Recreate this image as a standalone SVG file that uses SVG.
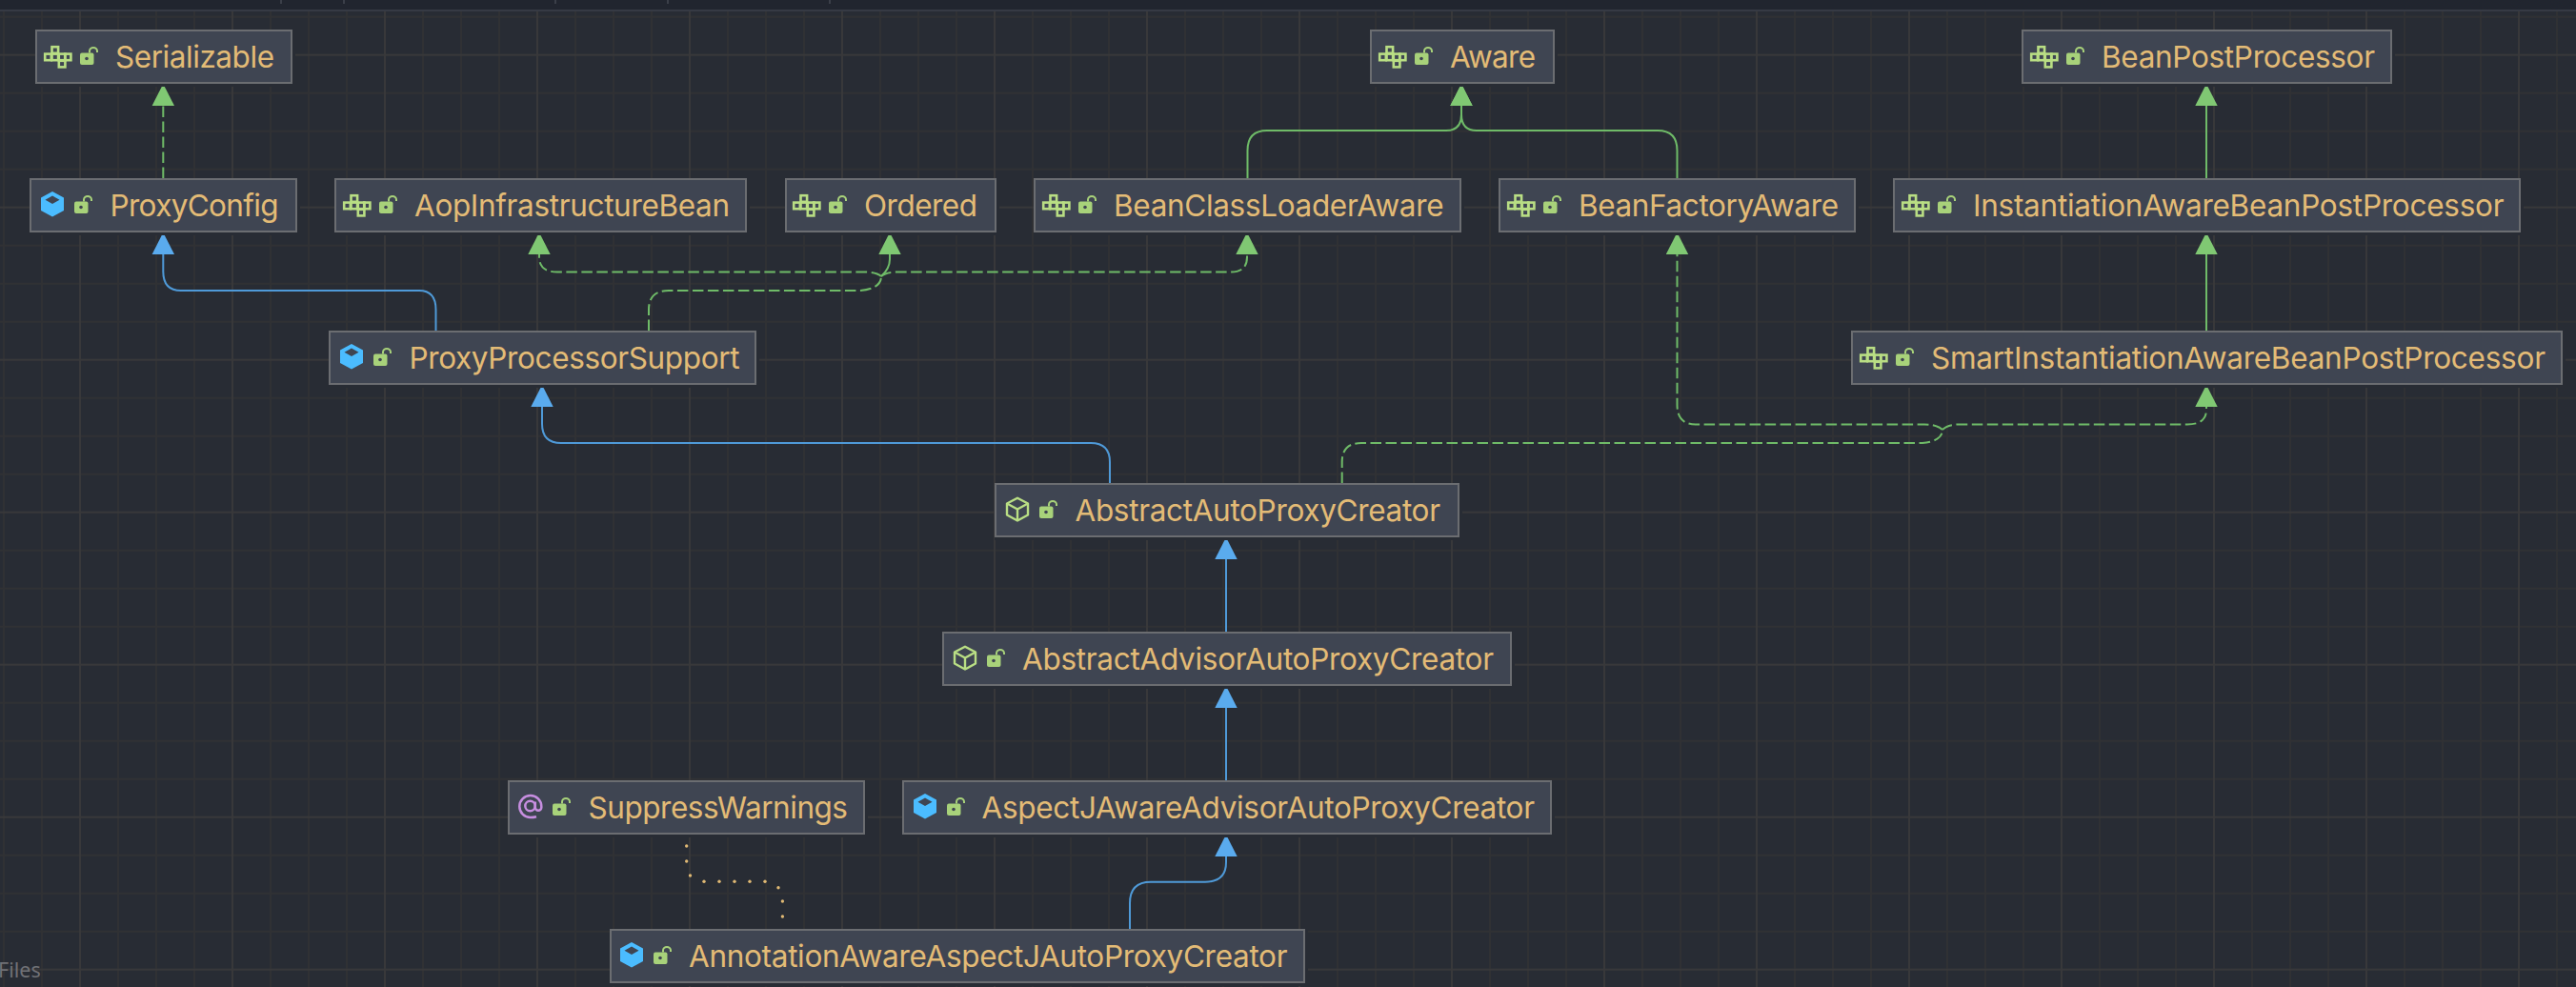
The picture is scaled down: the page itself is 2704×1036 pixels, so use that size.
<svg xmlns="http://www.w3.org/2000/svg" xmlns:xlink="http://www.w3.org/1999/xlink" width="2704" height="1036" viewBox="0 0 2704 1036">
<style>
.halo{fill:#282c34}
.box{fill:#3f4552;stroke:#6b6d71;stroke-width:2}
.edge{fill:#6b6d71}
.lbl{font-family:"Inter","Liberation Sans",sans-serif;font-size:31.5px;fill:#e3bb76}
.g{fill:none;stroke:#6fbb68;stroke-width:2}
.b{fill:none;stroke:#4f9ad8;stroke-width:2}
.d{stroke-dasharray:11.5 4.5}
.dot{fill:#e0b974}
</style>
<defs>
<pattern id="grid" patternUnits="userSpaceOnUse" x="-6" y="7.7" width="160" height="160">
<path d="M10 0V160M50 0V160M130 0V160M0 10H160M0 90H160M0 130H160" stroke="#303134" stroke-width="2" fill="none"/>
<path d="M90 0V160M0 50H160" stroke="#38383a" stroke-width="2" fill="none"/>
</pattern>
<marker id="ag" markerUnits="userSpaceOnUse" markerWidth="24" markerHeight="24" viewBox="0 -12 24 24" refX="0" refY="0" orient="auto"><path d="M0 -11.7L23 0L0 11.7Z" fill="#80c873"/></marker>
<marker id="ab" markerUnits="userSpaceOnUse" markerWidth="24" markerHeight="24" viewBox="0 -12 24 24" refX="0" refY="0" orient="auto"><path d="M0 -11.7L23 0L0 11.7Z" fill="#5aabee"/></marker>
<g id="iface" fill="none" stroke="#b9de84" stroke-width="2.6">
<rect x="8.5" y="1.2" width="6.6" height="6.6"/><rect x="1.2" y="8.6" width="6.6" height="6.6"/><rect x="8.5" y="8.6" width="6.6" height="6.6"/><rect x="15.8" y="8.6" width="6.6" height="6.6"/><rect x="22.2" y="8.6" width="6.2" height="6.6"/><rect x="15.8" y="15.8" width="6.6" height="6.6"/>
</g>
<g id="lock"><rect x="0" y="6.5" width="14.5" height="12.5" rx="2" fill="#a8d27a"/><path d="M10 6.5V4.5A4 3.6 0 0 1 18 4.5V6" fill="none" stroke="#a8d27a" stroke-width="2"/><circle cx="7" cy="12.5" r="1.8" fill="#3f4552"/></g>
<g id="cube"><path d="M12 0L24 6.6V20L12 26.5L0 20V6.6Z" fill="#4bbcff"/><path d="M12 4.5L19.5 8.8L12 13L4.5 8.8Z" fill="#3f4552"/></g>
<g id="abs" fill="none" stroke="#b9de84" stroke-width="2.4" stroke-linejoin="round"><path d="M12 1.2L23 7V19L12 25L1 19V7Z"/><path d="M1 7L12 13L23 7M12 13V25"/></g>
<g id="at" fill="none" stroke="#c78ee0" stroke-width="2.5"><circle cx="13" cy="12" r="5.2"/><path d="M19.5 23.2Q16.5 24 13.3 24A11.5 11.5 0 1 1 24.8 12.5V13.5A3 3 0 0 1 18.3 13.5V7.5"/></g>
</defs>

<rect width="2704" height="1036" fill="#282c34"/>
<rect y="12" width="2704" height="1024" fill="url(#grid)"/>
<rect width="2704" height="10" fill="#21252f"/>
<rect y="10" width="2704" height="2" fill="#363a44"/>
<path d="M295 0V4M361 0V4M583 0V4M701 0V4M871 0V4" stroke="#3b3f49" stroke-width="2"/>
<text x="-2" y="1025.5" font-family="'Noto Sans',sans-serif" font-size="21.5" fill="#707176">Files</text>

<g id="connectors">
<path class="g d" d="M171.3 187V111" marker-end="url(#ag)"/>
<path class="b" d="M457.5 347V325Q457.5 305 440 305H190Q171.3 305 171.3 285V267" marker-end="url(#ab)"/>
<path class="g d" d="M681 347V325Q681 305 702 305H903Q925 303 925 290"/>
<path class="g d" d="M925 290Q920 285.5 908 285.5H585Q566 285.5 566 270V267" marker-end="url(#ag)"/>
<path class="g" d="M925 290Q934 282 934 272V267" marker-end="url(#ag)"/>
<path class="g d" d="M925 290Q930 285.5 942 285.5H1292Q1309 285.5 1309 270V267" marker-end="url(#ag)"/>
<path class="g" d="M1309.5 187V158Q1309.5 137 1330 137H1518Q1534 137 1534 120V111" marker-end="url(#ag)"/>
<path class="g" d="M1760.5 187V158Q1760.5 137 1740 137H1550Q1534 137 1534 120V111" marker-end="url(#ag)"/>
<path class="g" d="M2316 187V111" marker-end="url(#ag)"/>
<path class="g" d="M2316 347V267" marker-end="url(#ag)"/>
<path class="b" d="M1165 507V485Q1165 465 1145 465H589Q569 465 569 445V427" marker-end="url(#ab)"/>
<path class="g d" d="M1408.7 507V485Q1408.7 465 1429 465H2018Q2039 463 2039 451"/>
<path class="g d" d="M2039 451Q2033 445.5 2020 445.5H1780Q1760.5 445.5 1760.5 425V267" marker-end="url(#ag)"/>
<path class="g d" d="M2039 451Q2044 445.5 2057 445.5H2296Q2316 445.5 2316 430V427" marker-end="url(#ag)"/>
<path class="b" d="M1287 663V587" marker-end="url(#ab)"/>
<path class="b" d="M1287 819V743" marker-end="url(#ab)"/>
<path class="b" d="M1186 975V948Q1186 925.7 1208 925.7H1265Q1287 925.7 1287 905V899" marker-end="url(#ab)"/>
<g class="dot">
<circle cx="720.7" cy="888" r="1.7"/><circle cx="720.7" cy="904" r="1.7"/><circle cx="724.5" cy="919" r="1.7"/><circle cx="739" cy="925.3" r="1.7"/><circle cx="755" cy="925.3" r="1.7"/><circle cx="771" cy="925.3" r="1.7"/><circle cx="787" cy="925.3" r="1.7"/><circle cx="803" cy="925.3" r="1.7"/><circle cx="817" cy="931.7" r="1.7"/><circle cx="821.4" cy="946" r="1.7"/><circle cx="821.4" cy="962" r="1.7"/>
</g>
</g>

<g id="n-Serializable"><rect class="halo" x="37" y="31" width="273" height="60"/><rect class="box" x="38" y="32" width="268" height="55"/><rect class="edge" x="37" y="86" width="270" height="2"/><use href="#iface" x="46" y="48"/><use href="#lock" x="84" y="49"/><text class="lbl" x="121" y="70.7" textLength="167">Serializable</text></g>
<g id="n-ProxyConfig"><rect class="halo" x="31" y="187" width="284" height="60"/><rect class="box" x="32" y="188" width="279" height="55"/><rect class="edge" x="31" y="242" width="281" height="2"/><use href="#cube" x="43" y="201"/><use href="#lock" x="78" y="205"/><text class="lbl" x="115.5" y="226.7" textLength="177">ProxyConfig</text></g>
<g id="n-AopInfrastructureBean"><rect class="halo" x="351" y="187" width="436" height="60"/><rect class="box" x="352" y="188" width="431" height="55"/><rect class="edge" x="351" y="242" width="433" height="2"/><use href="#iface" x="360" y="204"/><use href="#lock" x="398" y="205"/><text class="lbl" x="435" y="226.7" textLength="331">AopInfrastructureBean</text></g>
<g id="n-Ordered"><rect class="halo" x="824" y="187" width="225" height="60"/><rect class="box" x="825" y="188" width="220" height="55"/><rect class="edge" x="824" y="242" width="222" height="2"/><use href="#iface" x="832" y="204"/><use href="#lock" x="870" y="205"/><text class="lbl" x="907" y="226.7" textLength="119">Ordered</text></g>
<g id="n-BeanClassLoaderAware"><rect class="halo" x="1085" y="187" width="452" height="60"/><rect class="box" x="1086" y="188" width="447" height="55"/><rect class="edge" x="1085" y="242" width="449" height="2"/><use href="#iface" x="1094" y="204"/><use href="#lock" x="1132" y="205"/><text class="lbl" x="1169" y="226.7" textLength="346.6">BeanClassLoaderAware</text></g>
<g id="n-BeanFactoryAware"><rect class="halo" x="1573" y="187" width="378" height="60"/><rect class="box" x="1574" y="188" width="373" height="55"/><rect class="edge" x="1573" y="242" width="375" height="2"/><use href="#iface" x="1582" y="204"/><use href="#lock" x="1620" y="205"/><text class="lbl" x="1657" y="226.7" textLength="273">BeanFactoryAware</text></g>
<g id="n-Aware"><rect class="halo" x="1438" y="31" width="197" height="60"/><rect class="box" x="1439" y="32" width="192" height="55"/><rect class="edge" x="1438" y="86" width="194" height="2"/><use href="#iface" x="1447" y="48"/><use href="#lock" x="1485" y="49"/><text class="lbl" x="1522" y="70.7" textLength="90">Aware</text></g>
<g id="n-BeanPostProcessor"><rect class="halo" x="2122" y="31" width="392" height="60"/><rect class="box" x="2123" y="32" width="387" height="55"/><rect class="edge" x="2122" y="86" width="389" height="2"/><use href="#iface" x="2131" y="48"/><use href="#lock" x="2169" y="49"/><text class="lbl" x="2206" y="70.7" textLength="287">BeanPostProcessor</text></g>
<g id="n-InstantiationAwareBeanPostProcessor"><rect class="halo" x="1987" y="187" width="662" height="60"/><rect class="box" x="1988" y="188" width="657" height="55"/><rect class="edge" x="1987" y="242" width="659" height="2"/><use href="#iface" x="1996" y="204"/><use href="#lock" x="2034" y="205"/><text class="lbl" x="2071" y="226.7" textLength="557.5">InstantiationAwareBeanPostProcessor</text></g>
<g id="n-ProxyProcessorSupport"><rect class="halo" x="345" y="347" width="452" height="60"/><rect class="box" x="346" y="348" width="447" height="55"/><rect class="edge" x="345" y="402" width="449" height="2"/><use href="#cube" x="357" y="361"/><use href="#lock" x="392" y="365"/><text class="lbl" x="429.5" y="386.7" textLength="347">ProxyProcessorSupport</text></g>
<g id="n-SmartInstantiationAwareBeanPostProcessor"><rect class="halo" x="1943" y="347" width="750" height="60"/><rect class="box" x="1944" y="348" width="745" height="55"/><rect class="edge" x="1943" y="402" width="747" height="2"/><use href="#iface" x="1952" y="364"/><use href="#lock" x="1990" y="365"/><text class="lbl" x="2027" y="386.7" textLength="645">SmartInstantiationAwareBeanPostProcessor</text></g>
<g id="n-AbstractAutoProxyCreator"><rect class="halo" x="1044" y="507" width="491" height="60"/><rect class="box" x="1045" y="508" width="486" height="55"/><rect class="edge" x="1044" y="562" width="488" height="2"/><use href="#abs" x="1056" y="521.5"/><use href="#lock" x="1091" y="525"/><text class="lbl" x="1128.5" y="546.7" textLength="383.5">AbstractAutoProxyCreator</text></g>
<g id="n-AbstractAdvisorAutoProxyCreator"><rect class="halo" x="989" y="663" width="601" height="60"/><rect class="box" x="990" y="664" width="596" height="55"/><rect class="edge" x="989" y="718" width="598" height="2"/><use href="#abs" x="1001" y="677.5"/><use href="#lock" x="1036" y="681"/><text class="lbl" x="1073" y="702.7" textLength="495">AbstractAdvisorAutoProxyCreator</text></g>
<g id="n-SuppressWarnings"><rect class="halo" x="533" y="819" width="378" height="60"/><rect class="box" x="534" y="820" width="373" height="55"/><rect class="edge" x="533" y="874" width="375" height="2"/><use href="#at" x="543.5" y="834"/><use href="#lock" x="580" y="837"/><text class="lbl" x="617.5" y="858.7" textLength="272.5">SuppressWarnings</text></g>
<g id="n-AspectJAwareAdvisorAutoProxyCreator"><rect class="halo" x="947" y="819" width="685" height="60"/><rect class="box" x="948" y="820" width="680" height="55"/><rect class="edge" x="947" y="874" width="682" height="2"/><use href="#cube" x="959" y="833"/><use href="#lock" x="994" y="837"/><text class="lbl" x="1030.5" y="858.7" textLength="580.5">AspectJAwareAdvisorAutoProxyCreator</text></g>
<g id="n-AnnotationAwareAspectJAutoProxyCreator"><rect class="halo" x="640" y="975" width="733" height="60"/><rect class="box" x="641" y="976" width="728" height="55"/><rect class="edge" x="640" y="1030" width="730" height="2"/><use href="#cube" x="651" y="989"/><use href="#lock" x="686" y="993"/><text class="lbl" x="723" y="1014.7" textLength="628.5">AnnotationAwareAspectJAutoProxyCreator</text></g>
</svg>
